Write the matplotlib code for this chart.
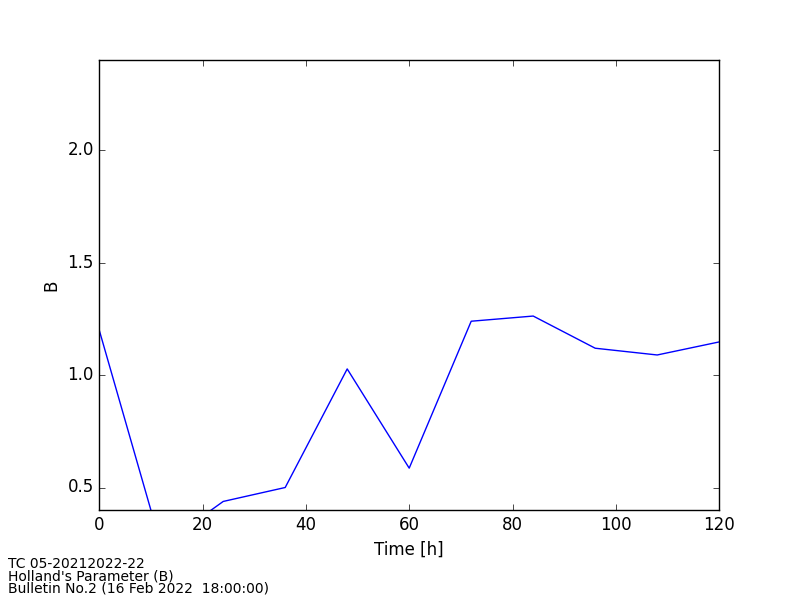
import matplotlib
matplotlib.use("Agg")
import matplotlib.pyplot as plt

# forecast hours and Holland B parameter
hours = [0, 12, 24, 36, 48, 60, 72, 84, 96, 108, 120]
b_param = [1.20, 0.24, 0.438, 0.50, 1.027, 0.586, 1.239, 1.262, 1.119, 1.089, 1.147]

footer = ["TC 05-20212022-22",
          "Holland's Parameter (B)",
          "Bulletin No.2 (16 Feb 2022  18:00:00)"]

plt.style.use('classic')

fig = plt.figure(figsize=(8, 6), dpi=100, facecolor='white')
ax = fig.add_axes([0.124, 0.15, 0.775, 0.75])

ax.plot(hours, b_param, color='b')

ax.set_xlim(0, 120)
ax.set_ylim(0.4, 2.4)
ax.set_yticks([0.5, 1.0, 1.5, 2.0])
ax.set_xlabel('Time [h]')
ax.set_ylabel('B')

fig.text(0.01, 0.007, "\n".join(footer), fontsize=10, ha='left', va='bottom',
         linespacing=0.85)

fig.savefig('out.png', dpi=100, facecolor='white')
